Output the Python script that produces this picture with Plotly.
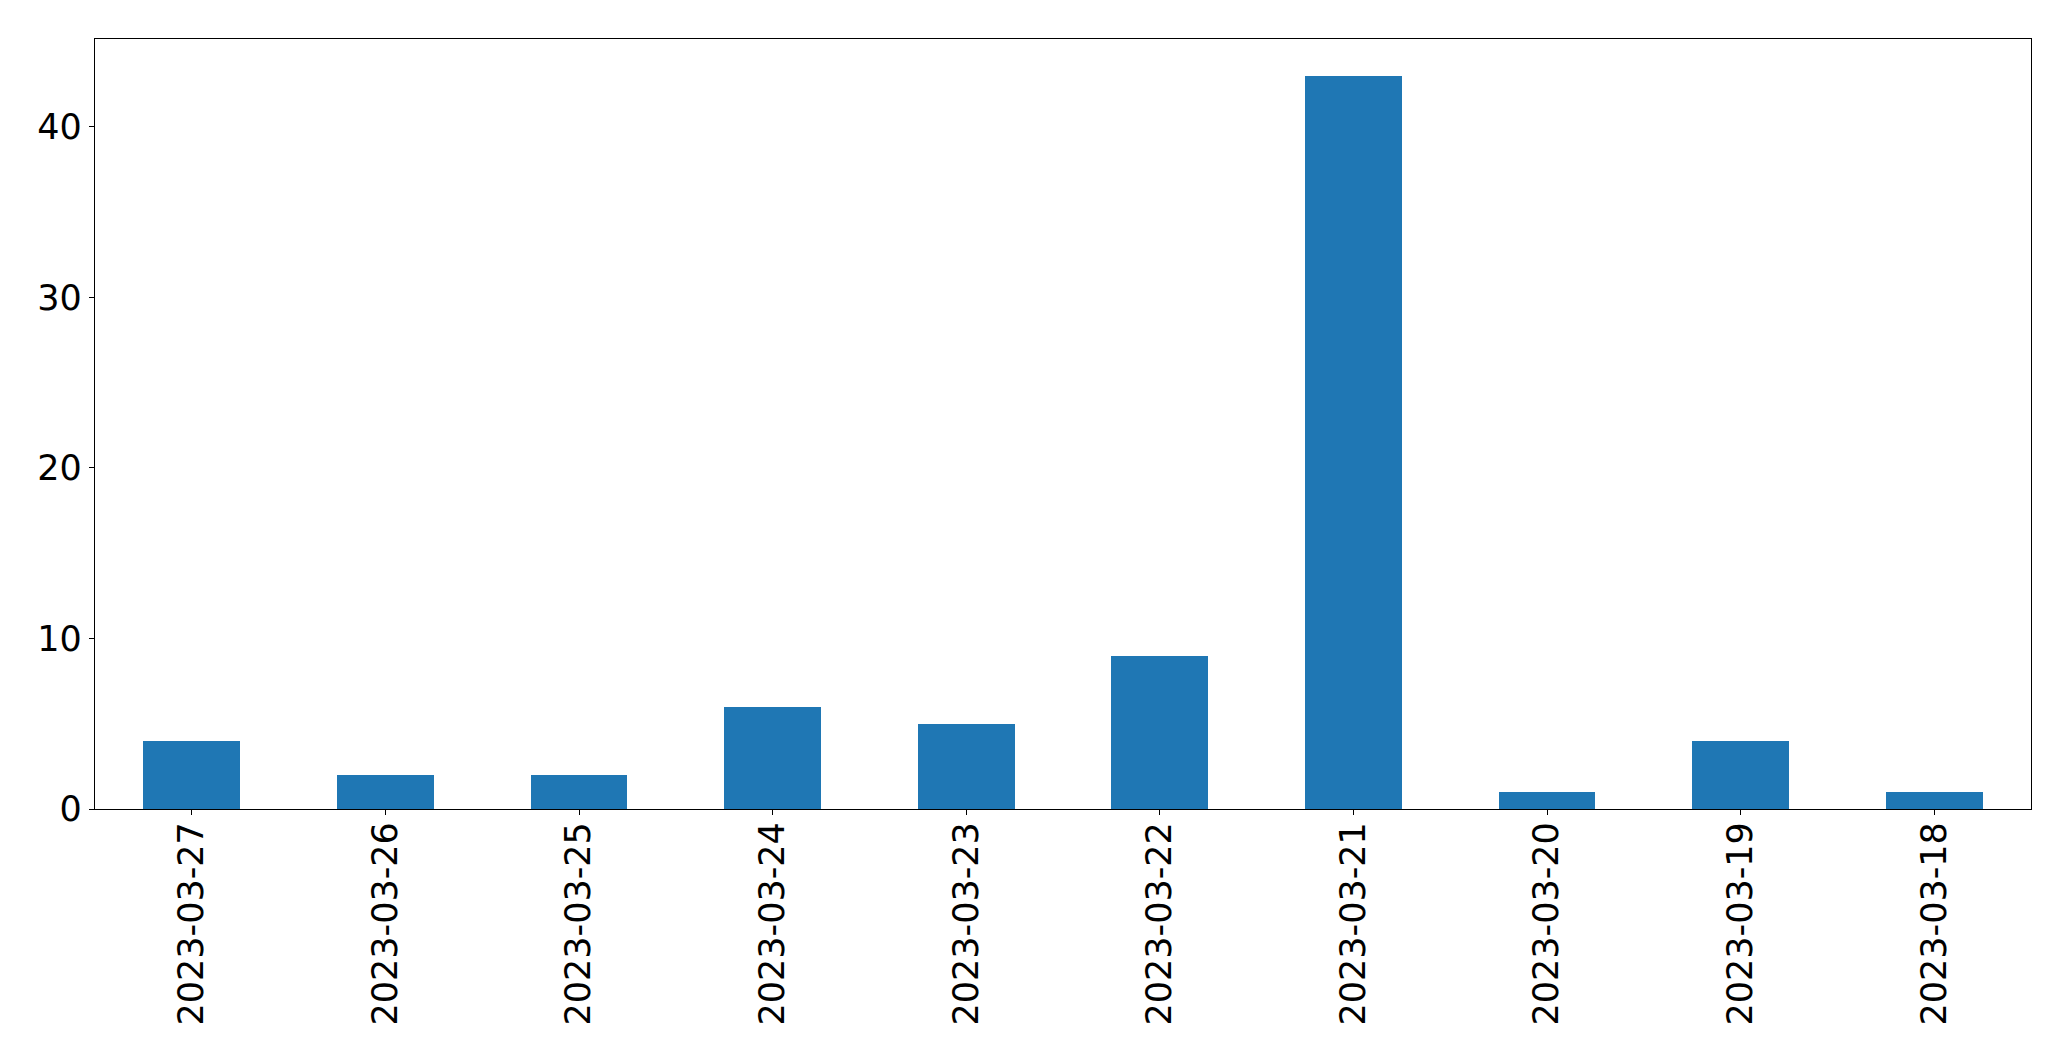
import plotly.graph_objects as go

dates = ["2023-03-27", "2023-03-26", "2023-03-25", "2023-03-24", "2023-03-23",
         "2023-03-22", "2023-03-21", "2023-03-20", "2023-03-19", "2023-03-18"]
counts = [4, 2, 2, 6, 5, 9, 43, 1, 4, 1]

W, H = 2071, 1061
OFF = 8  # page body margin
L, R, T, B = 94.5, 2031.5, 39, 809

fig = go.Figure(go.Bar(x=dates, y=counts, width=0.5, marker=dict(color="#1f77b4", line=dict(width=0))))

fig.update_layout(
    width=W - 2 * OFF, height=H - 2 * OFF,
    margin=dict(l=L - OFF, r=W - R - OFF, t=T - OFF, b=H - B - OFF, pad=0),
    paper_bgcolor="white", plot_bgcolor="white",
    font=dict(family="DejaVu Sans", size=35, color="black"),
    showlegend=False,
    bargap=0,
)
fig.update_xaxes(
    type="category", range=[-0.5, len(dates) - 0.5],
    tickangle=-90, ticks="outside", ticklen=5, tickwidth=1.3, tickcolor="black",
    ticklabelstandoff=-7,
    showline=True, linecolor="black", linewidth=1.3, mirror=True,
    showgrid=False, zeroline=False, automargin=False,
)
fig.update_yaxes(
    range=[0, max(counts) * 1.05], tickvals=[0, 10, 20, 30, 40],
    ticks="outside", ticklen=5, tickwidth=1.3, tickcolor="black",
    showline=True, linecolor="black", linewidth=1.3, mirror=True,
    showgrid=False, zeroline=False, automargin=False,
)

fig.write_html("out.html")
